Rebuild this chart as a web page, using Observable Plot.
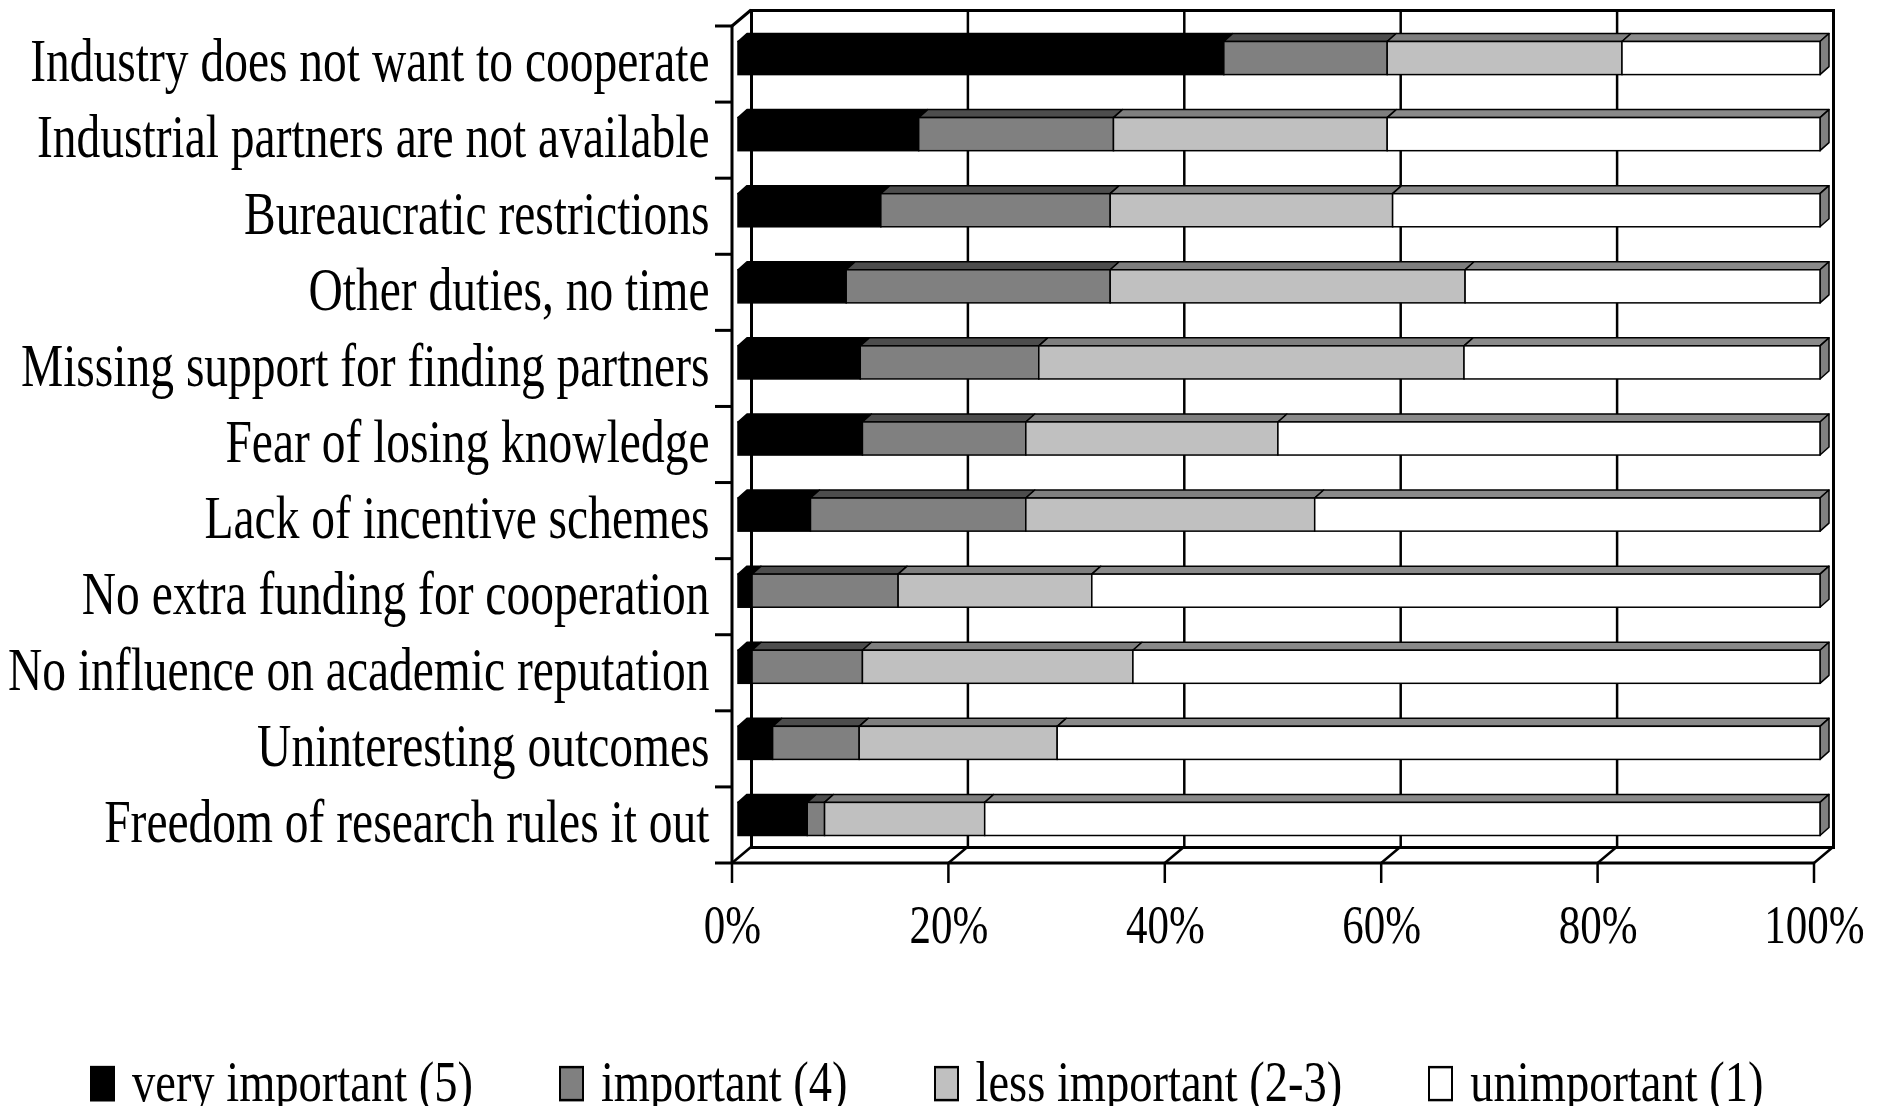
<!DOCTYPE html>
<html><head><meta charset="utf-8">
<script src="https://cdn.jsdelivr.net/npm/d3@7"></script>
<script src="https://cdn.jsdelivr.net/npm/@observablehq/plot@0.6"></script>
<style>
html,body{margin:0;padding:0;background:#fff;overflow:hidden;}
#legend{display:flex;align-items:center;gap:86px;margin-left:90px;margin-top:90px;height:46px;font-family:"Liberation Serif","Times New Roman",serif;font-size:46.5px;line-height:46px;transform:scaleY(1.22);transform-origin:center;white-space:nowrap;color:#000}
.item{display:flex;align-items:center;}
.sw{width:25px;height:29px;border:2.5px solid #000;box-sizing:border-box;margin-right:17px}
</style></head><body>
<div id="chart"></div><div id="legend"></div>
<script>
const categories = [
  "Industry does not want to cooperate",
  "Industrial partners are not available",
  "Bureaucratic restrictions",
  "Other duties, no time",
  "Missing support for finding partners",
  "Fear of losing knowledge",
  "Lack of incentive schemes",
  "No extra funding for cooperation",
  "No influence on academic reputation",
  "Uninteresting outcomes",
  "Freedom of research rules it out"
];
const seriesNames = ["very important (5)", "important (4)", "less important (2-3)", "unimportant (1)"];
const veryImportant = [44.9, 16.7, 13.2, 10.0, 11.3, 11.5, 6.7, 1.3, 1.3, 3.2, 6.4];
const important     = [15.1, 18.0, 21.2, 24.4, 16.5, 15.1, 19.9, 13.5, 10.2, 8.0, 1.6];
const lessImportant = [21.7, 25.3, 26.1, 32.8, 39.3, 23.3, 26.7, 17.9, 25.0, 18.3, 14.8];
const unimportant   = [18.3, 40.0, 39.5, 32.8, 32.9, 50.1, 46.7, 67.3, 63.5, 70.5, 77.2];
const xTicks = [0, 20, 40, 60, 80, 100];
const xTickLabels = ["0%", "20%", "40%", "60%", "80%", "100%"];

const colors = ["#000000", "#808080", "#c0c0c0", "#ffffff"];
const topColors = ["#000000", "#4d4d4d", "#7f7f7f", "#8a8a8a"];
const sideColor = "#808080";

const seriesValues = [veryImportant, important, lessImportant, unimportant];
const data = [];
categories.forEach((c, i) => seriesNames.forEach((s, j) => data.push({category: c, series: s, value: seriesValues[j][i]})));

// 3D offsets (styling)
const D = 9, E = 8;          // bar depth
const WX = 13, WY = -10;     // back wall offset from bar front plane
const FX = -6, FY = 6;       // front plane offset from bar front plane
const inset = 21.5;

function bars3d(index, scales, values, dimensions) {
  const {x1: X1, x2: X2, y: Y} = values;
  const band = (dimensions.height - dimensions.marginTop - dimensions.marginBottom) / categories.length;
  const g = d3.create("svg:g");
  const pts = a => a.map(p => p.join(",")).join(" ");
  for (const i of index) {
    const s = seriesNames.indexOf(data[i].series);
    const x1 = X1[i], x2 = X2[i], yt = Y[i] + inset, yb = Y[i] + band - inset;
    g.append("polygon").attr("points", pts([[x1, yt], [x1 + D, yt - E], [x2 + D, yt - E], [x2, yt]]))
      .attr("fill", topColors[s]).attr("stroke", "#000").attr("stroke-width", 1.5).attr("stroke-linejoin", "round");
    if (s === seriesNames.length - 1) {
      g.append("polygon").attr("points", pts([[x2, yt], [x2 + D, yt - E], [x2 + D, yb - E], [x2, yb]]))
        .attr("fill", sideColor).attr("stroke", "#000").attr("stroke-width", 1.5).attr("stroke-linejoin", "round");
    }
  }
  for (const i of index) {
    const s = seriesNames.indexOf(data[i].series);
    const x1 = X1[i], x2 = X2[i], yt = Y[i] + inset, yb = Y[i] + band - inset;
    g.append("rect").attr("x", x1).attr("y", yt).attr("width", Math.max(0, x2 - x1)).attr("height", yb - yt)
      .attr("fill", colors[s]).attr("stroke", "#000").attr("stroke-width", 1.5);
  }
  return g.node();
}

function floorAndAxes(index, scales, values, dimensions) {
  const {height, marginTop, marginBottom} = dimensions;
  const top = marginTop, bottom = height - marginBottom;
  const step = (bottom - top) / categories.length;
  const g = d3.create("svg:g").attr("stroke", "#000").attr("fill", "none");
  const X = xTicks.map(t => scales.x(t));
  const x0 = X[0], xN = X[X.length - 1];
  const line = (a, b, c, d, w) => g.append("line").attr("x1", a).attr("y1", b).attr("x2", c).attr("y2", d).attr("stroke-width", w);
  X.forEach(x => line(x + WX, bottom + WY, x + FX, bottom + FY, 2.5));
  line(x0 + FX, bottom + FY, xN + FX, bottom + FY, 3);
  line(x0 + FX, top + FY, x0 + FX, bottom + FY, 3);
  line(x0 + FX, top + FY, x0 + WX, top + WY, 3);
  for (let k = 0; k <= categories.length; k++) line(x0 + FX - 17, top + FY + k * step, x0 + FX, top + FY + k * step, 3);
  X.forEach(x => line(x + FX, bottom + FY, x + FX, bottom + FY + 20, 2.5));
  return g.node();
}

const svg = Plot.plot({
  width: 1879, height: 970,
  marginLeft: 738, marginRight: 59, marginTop: 20, marginBottom: 113,
  style: {fontFamily: '"Liberation Serif", "Times New Roman", serif', background: "#fff", color: "#000"},
  x: {domain: [0, 100], axis: null},
  y: {domain: categories, axis: null, padding: 0, round: false},
  color: {domain: seriesNames, range: colors},
  marks: [
    Plot.ruleX(xTicks, {x: d => d, stroke: "#000", strokeWidth: 2.5, dx: WX, dy: WY}),
    Plot.frame({stroke: "#000", strokeWidth: 3, dx: WX, dy: WY}),
    floorAndAxes,
    Plot.barX(data, Plot.stackX({x: "value", y: "category", fill: "series", order: seriesNames, render: bars3d})),
    Plot.text(categories, {y: d => d, text: d => d, frameAnchor: "left", dx: -29, dy: 3, textAnchor: "end", fontSize: 47.5, fill: "#000"}),
    Plot.text(xTicks, {x: d => d, text: (d, i) => xTickLabels[i], frameAnchor: "bottom", dx: FX, dy: 85, fontSize: 43, fill: "#000"})
  ]
});

d3.select(svg).selectAll("text").each(function() {
  const tr = this.getAttribute("transform");
  if (tr) this.setAttribute("transform", tr + " scale(1,1.3)");
  else {
    const x = +this.getAttribute("x") || 0, y = +this.getAttribute("y") || 0;
    this.removeAttribute("x"); this.removeAttribute("y");
    this.setAttribute("transform", `translate(${x},${y}) scale(1,1.3)`);
  }
});
document.getElementById("chart").appendChild(svg);

const legend = d3.select("#legend");
seriesNames.forEach((s, j) => {
  const it = legend.append("div").attr("class", "item");
  it.append("span").attr("class", "sw").style("background", colors[j]);
  it.append("span").text(s);
});
</script>
</body></html>
